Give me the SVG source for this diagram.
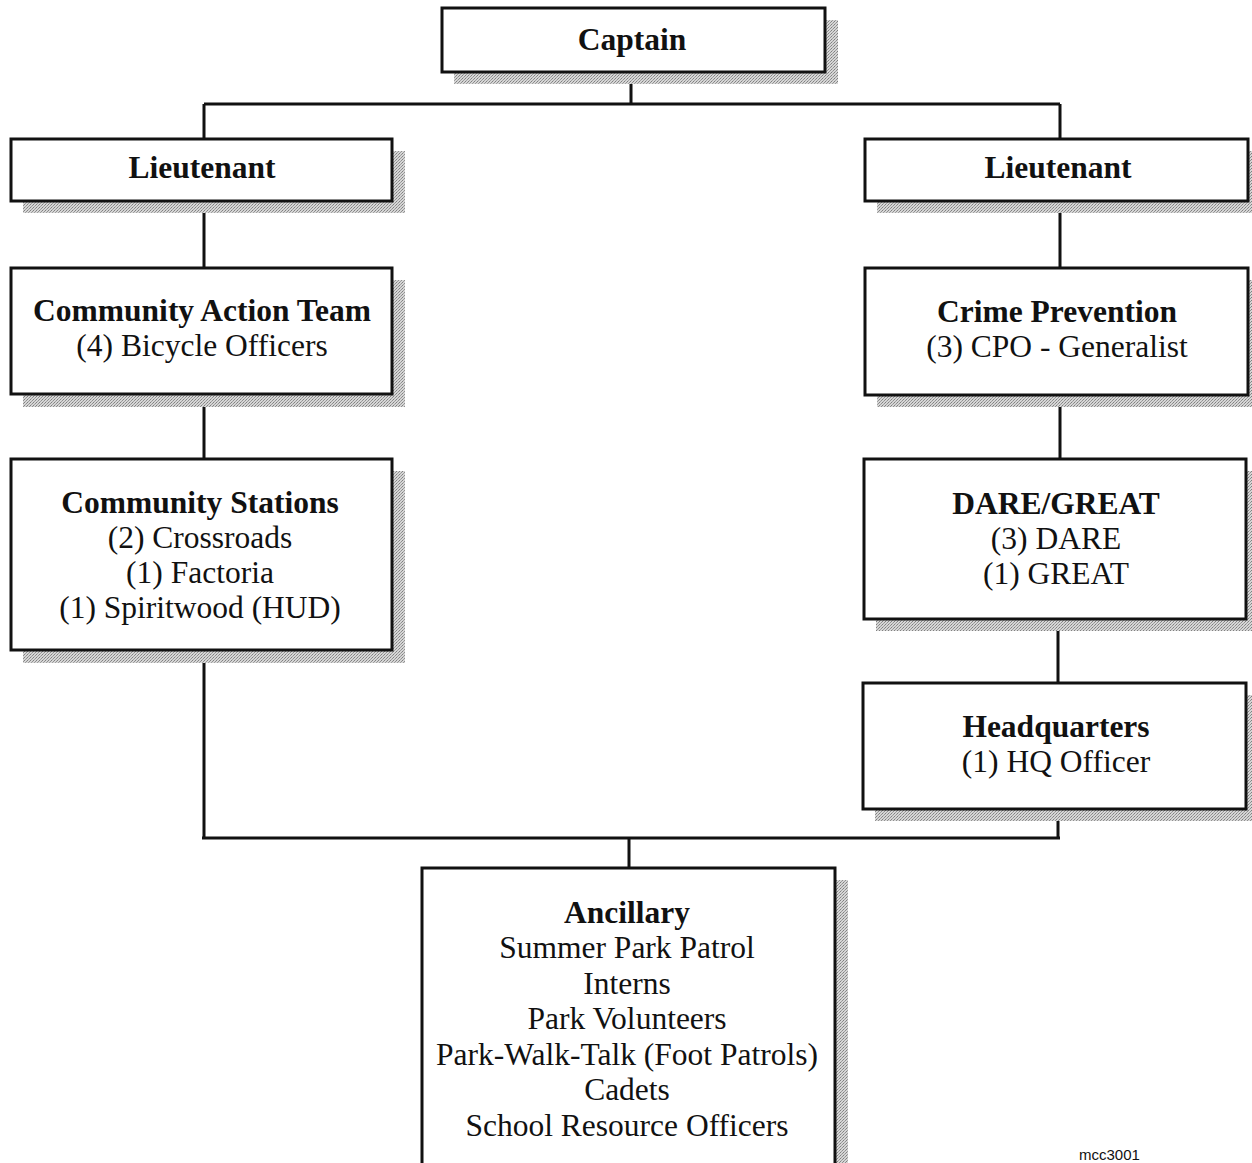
<svg xmlns="http://www.w3.org/2000/svg" width="1252" height="1163" viewBox="0 0 1252 1163">
<defs>
<pattern id="ht" width="3" height="3" patternUnits="userSpaceOnUse">
<rect width="3" height="3" fill="#d6d6d6"/>
<rect width="1" height="1" fill="#808080"/>
<rect x="2" y="1" width="1" height="1" fill="#909090"/>
<rect x="1" y="2" width="1" height="1" fill="#a0a0a0"/>
</pattern>
<style>
.box{fill:#fff;stroke:#111;stroke-width:3}
.sh{fill:url(#ht)}
.t{font-family:"Liberation Serif","Times New Roman",serif;font-size:31.5px;fill:#111;text-anchor:middle}
.b{font-weight:bold}
.ln{stroke:#111;stroke-width:3;fill:none}
</style>
</defs>
<rect width="1252" height="1163" fill="#fff"/>
<g id="connectors">
<path class="ln" d="M631 84V104M204 104H1060M204 104V139M1060 104V139"/>
<path class="ln" d="M204 213V268M204 406V459M204 663V838M202 838H1060"/>
<path class="ln" d="M1060 213V268M1060 407V459M1058 631V683M1058 821V838"/>
<path class="ln" d="M629 838V868"/>
</g>
<g id="captain">
<rect class="sh" x="454" y="20" width="384" height="64"/>
<rect class="box" x="442" y="8" width="383" height="64"/>
<text class="t b" x="632" y="50">Captain</text>
</g>
<g id="lieutenant-left">
<rect class="sh" x="23" y="151" width="382" height="62"/>
<rect class="box" x="11" y="139" width="381" height="62"/>
<text class="t b" x="202" y="178">Lieutenant</text>
</g>
<g id="lieutenant-right">
<rect class="sh" x="877" y="151" width="375" height="62"/>
<rect class="box" x="865" y="139" width="383" height="62"/>
<text class="t b" x="1058" y="178">Lieutenant</text>
</g>
<g id="community-action-team">
<rect class="sh" x="23" y="280" width="382" height="127"/>
<rect class="box" x="11" y="268" width="381" height="126"/>
<text class="t b" x="202" y="321">Community Action Team</text>
<text class="t" x="202" y="356">(4) Bicycle Officers</text>
</g>
<g id="crime-prevention">
<rect class="sh" x="877" y="280" width="375" height="127"/>
<rect class="box" x="865" y="268" width="383" height="127"/>
<text class="t b" x="1057" y="322">Crime Prevention</text>
<text class="t" x="1057" y="357">(3) CPO - Generalist</text>
</g>
<g id="community-stations">
<rect class="sh" x="23" y="471" width="382" height="192"/>
<rect class="box" x="11" y="459" width="381" height="191"/>
<text class="t b" x="200" y="513">Community Stations</text>
<text class="t" x="200" y="548">(2) Crossroads</text>
<text class="t" x="200" y="583">(1) Factoria</text>
<text class="t" x="200" y="618">(1) Spiritwood (HUD)</text>
</g>
<g id="dare-great">
<rect class="sh" x="876" y="471" width="376" height="160"/>
<rect class="box" x="864" y="459" width="382" height="160"/>
<text class="t b" x="1056" y="514">DARE/GREAT</text>
<text class="t" x="1056" y="549">(3) DARE</text>
<text class="t" x="1056" y="584">(1) GREAT</text>
</g>
<g id="headquarters">
<rect class="sh" x="875" y="695" width="377" height="126"/>
<rect class="box" x="863" y="683" width="383" height="126"/>
<text class="t b" x="1056" y="737">Headquarters</text>
<text class="t" x="1056" y="772">(1) HQ Officer</text>
</g>
<g id="ancillary">
<rect class="sh" x="434" y="880" width="414" height="290"/>
<rect class="box" x="422" y="868" width="413" height="300"/>
<text class="t b" x="627" y="923">Ancillary</text>
<text class="t" x="627" y="958">Summer Park Patrol</text>
<text class="t" x="627" y="994">Interns</text>
<text class="t" x="627" y="1029">Park Volunteers</text>
<text class="t" x="627" y="1065">Park-Walk-Talk (Foot Patrols)</text>
<text class="t" x="627" y="1100">Cadets</text>
<text class="t" x="627" y="1136">School Resource Officers</text>
</g>
<text x="1079" y="1160" style="font-family:'Liberation Sans',Arial,sans-serif;font-size:15px;fill:#111">mcc3001</text>
</svg>
